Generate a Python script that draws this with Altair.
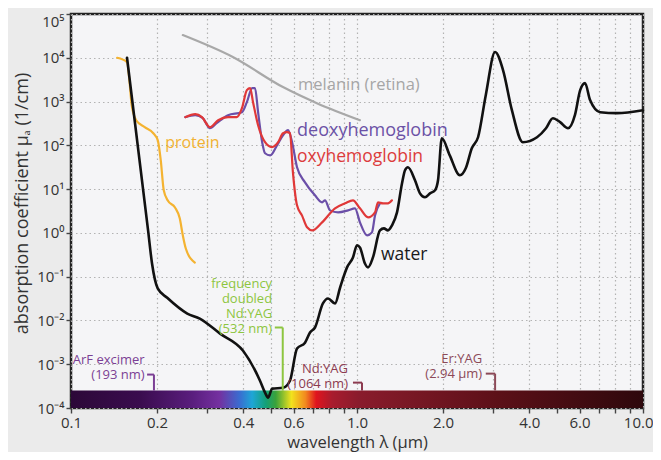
import math
import altair as alt
import pandas as pd

# ---------------- data (wavelength in µm, absorption coefficient in 1/cm) ----------------
water_wl = [0.157, 0.186, 0.192, 0.201, 0.217, 0.255, 0.282, 0.332, 0.399, 0.458, 0.477, 0.489,
            0.505, 0.551, 0.583, 0.617, 0.658, 0.685, 0.713, 0.760, 0.792, 0.838, 0.873, 0.923,
            0.968, 1.0, 1.024, 1.066, 1.093, 1.137, 1.203, 1.242, 1.283, 1.325, 1.380, 1.437,
            1.472, 1.507, 1.595, 1.660, 1.729, 1.80, 1.874, 1.92, 1.98, 2.11, 2.29, 2.40, 2.52,
            2.65, 2.82, 3.04, 3.24, 3.48, 3.80, 4.26, 4.58, 4.84, 5.13, 5.47, 5.78, 6.03, 6.27,
            6.53, 7.08, 8.11, 10.0]
water_mu = [1e4, 1.14, 0.20, 0.054, 0.033, 0.0144, 0.011, 0.005, 0.00205, 4.2e-4, 2.24e-4, 1.72e-4,
            2.77e-4, 2.9e-4, 4.2e-4, 2.28e-3, 3.1e-3, 5.3e-3, 6.9e-3, 0.0244, 0.0317, 0.0244, 0.0566,
            0.163, 0.275, 0.52, 0.466, 0.20, 0.163, 0.275, 1.14, 1.27, 1.14, 1.48, 2.94, 13.6,
            26.9, 31.5, 15.9, 8.0, 6.5, 8.0, 9.4, 15.9, 145, 59, 20.7, 29.9, 86,
            153, 1400, 1.35e4, 5240, 635, 118, 153, 246, 417, 338, 246, 489, 1820, 2640,
            1080, 572, 543, 635]

protein_wl = [0.145, 0.157, 0.160, 0.163, 0.169, 0.181, 0.194, 0.201, 0.206, 0.211, 0.218,
              0.231, 0.240, 0.246, 0.252, 0.271]
protein_mu = [1e4, 7980, 3090, 828, 375, 260, 189, 131, 45.6, 9.4, 5.5, 3.8, 2.15, 0.88, 0.44, 0.21]

oxy_wl = [0.251, 0.272, 0.287, 0.306, 0.327, 0.354, 0.380, 0.396, 0.412, 0.423, 0.433, 0.451,
          0.477, 0.504, 0.530, 0.551, 0.569, 0.583, 0.597, 0.617, 0.642, 0.669, 0.697, 0.755,
          0.838, 0.908, 0.968, 1.024, 1.093, 1.156, 1.184, 1.233, 1.283, 1.325]
oxy_mu = [440, 515, 440, 260, 375, 440, 440, 706, 1820, 2030, 968, 288,
          118, 91, 118, 189, 200, 189, 24.2, 4.26, 2.51, 1.34, 1.14, 1.74,
          3.64, 4.73, 5.55, 3.64, 2.26, 2.94, 4.99, 4.73, 4.73, 5.55]

deoxy_wl = [0.251, 0.272, 0.289, 0.306, 0.323, 0.354, 0.396, 0.412, 0.430, 0.440, 0.451, 0.466,
            0.477, 0.497, 0.525, 0.551, 0.574, 0.593, 0.617, 0.658, 0.713, 0.755, 0.773, 0.805,
            0.859, 0.931, 0.984, 1.024, 1.084, 1.128, 1.156, 1.203]
deoxy_mu = [440, 489, 417, 246, 321, 489, 572, 968, 2030, 2030, 572, 118,
            66, 59, 100, 170, 222, 118, 31.5, 14.3, 7.2, 5.0, 5.55, 3.27,
            2.94, 3.27, 3.64, 1.74, 0.88, 1.03, 2.51, 4.73]

melanin_wl = [0.246, 0.368, 0.551, 0.724, 1.024]
melanin_mu = [3.3e4, 1.04e4, 2140, 918, 375]

# visible spectrum band along the wavelength axis
spectrum_wl = [0.1, 0.174, 0.266, 0.33, 0.388, 0.43, 0.48, 0.52, 0.59, 0.66, 0.72, 0.82, 1.01, 3.1, 10.0]
spectrum_col = ["#2c0838", "#3a0c4e", "#5a1e7e", "#7430a0", "#3a6cd0", "#1ea6d6", "#14a078",
                "#3aa23a", "#f2e21e", "#f28a1e", "#e0141e", "#a81c2e", "#8a1c2c", "#5c1018", "#2e080c"]
spectrum_bottom = 1e-4
spectrum_top = 2.5e-4

# curve labels
curve_text = ["melanin (retina)", "deoxyhemoglobin", "oxyhemoglobin", "protein", "water"]
curve_text_wl = [0.622, 0.617, 0.617, 0.2134, 1.213]
curve_text_mu = [2370, 210, 53.5, 112, 0.305]
curve_text_size = [16.5, 18, 17.5, 16, 17.5]
curve_text_col = ["#a6a6a6", "#6b52a6", "#dc3c3c", "#f2b232", "#1a1a1a"]

# laser labels (one multi-line label per laser, anchored at its first line)
laser_text = ["ArF excimer\n(193 nm)", "frequency\ndoubled\nNd:YAG\n(532 nm)",
              "Nd:YAG\n(1064 nm)", "Er:YAG\n(2.94 µm)"]
laser_text_wl = [0.181, 0.505, 0.93, 2.74]
laser_text_mu = [1.27e-3, 0.0698, 7.9e-4, 1.34e-3]
laser_col = ["#7b3f94", "#8dc540", "#8c3b50", "#8c4a58"]

bracket_wl = [0.195, 0.55, 1.041, 3.04]
bracket_left_wl = [0.1845, 0.516, 0.968, 2.82]
bracket_top_mu = [5.8e-4, 6.9e-3, 3.8e-4, 6.1e-4]

# axis ticks
x_tick_values = [0.1, 0.2, 0.3, 0.4, 0.5, 0.6, 0.7, 0.8, 0.9, 1.0,
                 2.0, 3.0, 4.0, 5.0, 6.0, 7.0, 8.0, 9.0, 10.0]
x_tick_labels = ["0.1", "0.2", "0.4", "0.6", "1.0", "2.0", "4.0", "6.0", "10.0"]
y_exponents = [-4, -3, -2, -1, 0, 1, 2, 3, 4, 5]
y_tick_labels = ["10⁻⁴", "10⁻³", "10⁻²", "10⁻¹", "10⁰", "10¹", "10²", "10³", "10⁴", "10⁵"]

# ---------------- chart ----------------
FONT = "Open Sans"
TXT = "#333333"

x_label_expr = ("indexof([" + ",".join("'%s'" % s for s in x_tick_labels) +
                "], format(datum.value, '.1f')) >= 0 ? format(datum.value, '.1f') : ''")
y_label_expr = ""
for e, lab in zip(y_exponents, y_tick_labels):
    y_label_expr += "datum.value < %g ? '%s' : " % (10 ** (e + 0.5), lab)
y_label_expr += "''"

xaxis = alt.Axis(values=x_tick_values, labelExpr=x_label_expr, title="wavelength λ (µm)",
                 grid=True, gridDash=[1.5, 3], gridColor="#b3b3b3", gridWidth=1.2,
                 domain=False, ticks=True, tickColor="#444", tickSize=5, tickWidth=1.4,
                 labelFontSize=15, labelColor=TXT, labelFont=FONT, labelPadding=2,
                 labelAlign={"condition": {"test": "datum.value > 9", "value": "right"},
                             "value": "center"},
                 labelOffset={"condition": {"test": "datum.value > 9", "value": 10},
                              "value": 0},
                 labelOverlap=False, labelFlush=False,
                 titleFontSize=16.5, titleFont=FONT, titleColor=TXT, titleFontWeight="normal",
                 titlePadding=4)
yaxis = alt.Axis(values=[10.0 ** e for e in y_exponents], labelExpr=y_label_expr,
                 title="absorption coefficient μₐ (1/cm)",
                 grid=True, gridDash=[1.5, 3], gridColor="#b3b3b3", gridWidth=1.2,
                 domain=False, ticks=True, tickColor="#444", tickSize=5, tickWidth=1.4,
                 labelFontSize=15, labelColor=TXT, labelFont=FONT, labelPadding=2,
                 labelBaseline={"condition": {"test": "datum.value > 50000", "value": "top"},
                                "value": "middle"},
                 labelOverlap=False, labelFlush=False,
                 titleFontSize=18, titleFont=FONT, titleColor=TXT, titleFontWeight="normal",
                 titleAngle=270, titleAlign="center", titleBaseline="middle",
                 titleX=-49, titleY=189)

xs = alt.Scale(type="log", domain=[0.1, 10])
ys = alt.Scale(type="log", domain=[1e-4, 1e5])
X = alt.X("wl:Q", scale=xs, axis=xaxis)
Y = alt.Y("mu:Q", scale=ys, axis=yaxis)

# spectrum band
lo, hi = math.log10(spectrum_wl[0]), math.log10(spectrum_wl[-1])
stops = [alt.GradientStop(offset=(math.log10(w) - lo) / (hi - lo), color=c)
         for w, c in zip(spectrum_wl, spectrum_col)]
band_df = pd.DataFrame({"wl": [spectrum_wl[0]], "wl2": [spectrum_wl[-1]],
                        "mu": [spectrum_bottom], "mu2": [spectrum_top]})
band = alt.Chart(band_df).mark_rect(
    color=alt.LinearGradient(gradient="linear", stops=stops, x1=0, x2=1, y1=0, y2=0)
).encode(x=X, x2="wl2:Q", y=Y, y2="mu2:Q")


def curve(wl, mu, color, width):
    df = pd.DataFrame({"wl": wl, "mu": mu, "i": list(range(len(wl)))})
    return alt.Chart(df).mark_line(color=color, strokeWidth=width, interpolate="monotone",
                                   strokeCap="round", strokeJoin="round").encode(
        x=X, y=Y, order="i:Q")


melanin = curve(melanin_wl, melanin_mu, "#a8a8a8", 2.2)
protein = curve(protein_wl, protein_mu, "#f4b331", 2.2)
deoxy = curve(deoxy_wl, deoxy_mu, "#6b4fa8", 2.2)
oxy = curve(oxy_wl, oxy_mu, "#e03838", 2.2)
water = curve(water_wl, water_mu, "#111111", 2.6)

# laser brackets
seg_rows = []
for w, wl_left, top, c in zip(bracket_wl, bracket_left_wl, bracket_top_mu, laser_col):
    seg_rows.append({"wl": wl_left, "wl2": w, "mu": top, "mu2": top, "c": c})
    seg_rows.append({"wl": w, "wl2": w, "mu": top, "mu2": spectrum_top, "c": c})
brackets = alt.Chart(pd.DataFrame(seg_rows)).mark_rule(strokeWidth=2).encode(
    x=X, x2="wl2:Q", y=Y, y2="mu2:Q", color=alt.Color("c:N", scale=None))

curve_labels = alt.Chart(pd.DataFrame({"wl": curve_text_wl, "mu": curve_text_mu,
                                       "t": curve_text, "c": curve_text_col,
                                       "s": curve_text_size})).mark_text(
    align="left", baseline="middle", font=FONT).encode(
    x=X, y=Y, text="t:N", color=alt.Color("c:N", scale=None),
    size=alt.Size("s:Q", scale=None, legend=None))

laser_labels = alt.Chart(pd.DataFrame({"wl": laser_text_wl, "mu": laser_text_mu,
                                       "t": laser_text, "c": laser_col})).mark_text(
    align="right", baseline="middle", font=FONT, fontSize=13, lineBreak="\n", lineHeight=15
).encode(x=X, y=Y, text="t:N", color=alt.Color("c:N", scale=None))

chart = alt.layer(band, melanin, protein, deoxy, oxy, water, brackets,
                  curve_labels, laser_labels).properties(
    width=572, height=394,
    autosize=alt.AutoSizeParams(type="none"),
    padding={"left": 63, "top": 6, "right": 10, "bottom": 44},
    background="#ebebeb",
).configure_view(stroke="#222222", strokeWidth=2.5, fill="#f5f5f7")

chart.save("out.html", embed_options={"renderer": "svg", "actions": False})
